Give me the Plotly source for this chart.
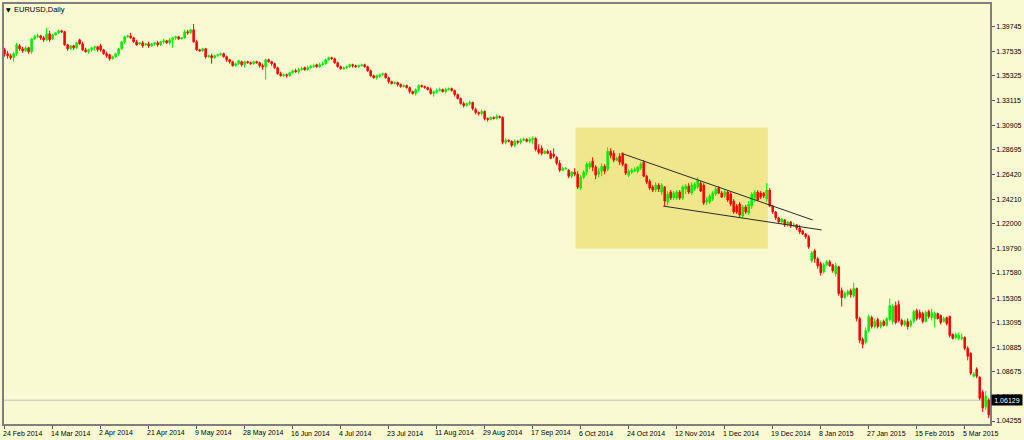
import plotly.graph_objects as go

# ---------------- data (EURUSD daily) ----------------
OPEN = [
    1.3768, 1.3733, 1.3715, 1.3697, 1.3733, 1.3804, 1.3777, 1.3759, 1.3786, 1.3751,
    1.3867, 1.3885, 1.3894, 1.3876, 1.3858, 1.3912, 1.3867, 1.3903, 1.3921, 1.3939,
    1.3930, 1.3813, 1.3777, 1.3804, 1.3786, 1.3858, 1.3822, 1.3768, 1.3751, 1.3768,
    1.3786, 1.3795, 1.3804, 1.3768, 1.3733, 1.3724, 1.3688, 1.3706, 1.3733, 1.3777,
    1.3840, 1.3885, 1.3894, 1.3876, 1.3840, 1.3822, 1.3831, 1.3813, 1.3822, 1.3804,
    1.3822, 1.3831, 1.3813, 1.3840, 1.3849, 1.3831, 1.3858, 1.3876, 1.3885, 1.3867,
    1.3876, 1.3930, 1.3921, 1.3948, 1.3840, 1.3768, 1.3759, 1.3777, 1.3706, 1.3715,
    1.3697, 1.3715, 1.3724, 1.3733, 1.3706, 1.3679, 1.3661, 1.3625, 1.3643, 1.3661,
    1.3634, 1.3661, 1.3652, 1.3643, 1.3661, 1.3652, 1.3625, 1.3616, 1.3679, 1.3661,
    1.3643, 1.3607, 1.3553, 1.3535, 1.3544, 1.3535, 1.3562, 1.3580, 1.3571, 1.3589,
    1.3607, 1.3589, 1.3607, 1.3616, 1.3634, 1.3616, 1.3634, 1.3643, 1.3679, 1.3697,
    1.3688, 1.3652, 1.3616, 1.3598, 1.3607, 1.3616, 1.3634, 1.3625, 1.3616, 1.3625,
    1.3634, 1.3616, 1.3580, 1.3535, 1.3517, 1.3526, 1.3544, 1.3553, 1.3517, 1.3482,
    1.3464, 1.3473, 1.3455, 1.3437, 1.3446, 1.3428, 1.3392, 1.3374, 1.3410, 1.3446,
    1.3437, 1.3428, 1.3410, 1.3374, 1.3392, 1.3401, 1.3410, 1.3392, 1.3410, 1.3419,
    1.3401, 1.3365, 1.3329, 1.3284, 1.3266, 1.3284, 1.3293, 1.3231, 1.3204, 1.3195,
    1.3213, 1.3150, 1.3141, 1.3159, 1.3150, 1.3168, 1.3159, 1.2935, 1.2953, 1.2944,
    1.2908, 1.2944, 1.2935, 1.2953, 1.2962, 1.2944, 1.2962, 1.2971, 1.2872, 1.2881,
    1.2836, 1.2854, 1.2836, 1.2827, 1.2800, 1.2747, 1.2684, 1.2693, 1.2684, 1.2630,
    1.2666, 1.2648, 1.2523, 1.2621, 1.2666, 1.2711, 1.2765, 1.2711, 1.2648, 1.2675,
    1.2720, 1.2693, 1.2854, 1.2836, 1.2774, 1.2809, 1.2827, 1.2738, 1.2639, 1.2666,
    1.2675, 1.2675, 1.2702, 1.2756, 1.2630, 1.2585, 1.2532, 1.2505, 1.2549, 1.2487,
    1.2532, 1.2397, 1.2487, 1.2433, 1.2433, 1.2487, 1.2433, 1.2514, 1.2541, 1.2478,
    1.2514, 1.2532, 1.2567, 1.2549, 1.2397, 1.2397, 1.2424, 1.2469, 1.2523, 1.2478,
    1.2451, 1.2487, 1.2469, 1.2406, 1.2361, 1.2379, 1.2272, 1.2352, 1.2299, 1.2361,
    1.2433, 1.2487, 1.2478, 1.2478, 1.2424, 1.2505, 1.2361, 1.2308, 1.2254, 1.2218,
    1.2236, 1.2191, 1.2218, 1.2182, 1.2191, 1.2164, 1.2137, 1.2110, 1.2084, 1.1868,
    1.1958, 1.1886, 1.1841, 1.1770, 1.1832, 1.1859, 1.1832, 1.1752, 1.1815, 1.1600,
    1.1537, 1.1564, 1.1600, 1.1555, 1.1618, 1.1348, 1.1160, 1.1134, 1.1241, 1.1357,
    1.1277, 1.1339, 1.1277, 1.1322, 1.1286, 1.1339, 1.1322, 1.1465, 1.1474, 1.1331,
    1.1295, 1.1322, 1.1286, 1.1322, 1.1420, 1.1402, 1.1393, 1.1322, 1.1411, 1.1357,
    1.1348, 1.1393, 1.1375, 1.1322, 1.1357, 1.1366, 1.1205, 1.1178, 1.1169, 1.1169,
    1.1178, 1.1080, 1.1035, 1.0829, 1.0892, 1.0820, 1.0685, 1.0551, 1.0614,
]

HIGH = [
    1.3786, 1.3759, 1.3733, 1.3751, 1.3831, 1.3822, 1.3795, 1.3804, 1.3795, 1.3876,
    1.3903, 1.3912, 1.3903, 1.3894, 1.3966, 1.3939, 1.3912, 1.3930, 1.3948, 1.3948,
    1.3939, 1.3822, 1.3813, 1.3813, 1.3840, 1.3867, 1.3840, 1.3786, 1.3777, 1.3795,
    1.3804, 1.3804, 1.3822, 1.3777, 1.3751, 1.3733, 1.3715, 1.3742, 1.3786, 1.3849,
    1.3894, 1.3903, 1.3921, 1.3885, 1.3858, 1.3840, 1.3849, 1.3831, 1.3840, 1.3831,
    1.3840, 1.3849, 1.3849, 1.3867, 1.3858, 1.3876, 1.3885, 1.3894, 1.3894, 1.3885,
    1.3948, 1.3948, 1.3957, 1.4001, 1.3858, 1.3777, 1.3786, 1.3786, 1.3724, 1.3733,
    1.3724, 1.3733, 1.3742, 1.3742, 1.3715, 1.3688, 1.3670, 1.3652, 1.3679, 1.3670,
    1.3670, 1.3670, 1.3661, 1.3670, 1.3670, 1.3661, 1.3643, 1.3688, 1.3688, 1.3670,
    1.3652, 1.3616, 1.3571, 1.3553, 1.3553, 1.3571, 1.3589, 1.3598, 1.3607, 1.3616,
    1.3616, 1.3625, 1.3634, 1.3643, 1.3643, 1.3652, 1.3661, 1.3688, 1.3706, 1.3706,
    1.3697, 1.3661, 1.3625, 1.3616, 1.3625, 1.3643, 1.3643, 1.3634, 1.3634, 1.3643,
    1.3643, 1.3625, 1.3589, 1.3544, 1.3544, 1.3553, 1.3562, 1.3562, 1.3526, 1.3490,
    1.3482, 1.3482, 1.3464, 1.3455, 1.3455, 1.3437, 1.3401, 1.3419, 1.3455, 1.3455,
    1.3446, 1.3437, 1.3428, 1.3401, 1.3419, 1.3428, 1.3419, 1.3428, 1.3428, 1.3428,
    1.3410, 1.3374, 1.3338, 1.3302, 1.3293, 1.3311, 1.3302, 1.3248, 1.3213, 1.3231,
    1.3222, 1.3159, 1.3168, 1.3168, 1.3186, 1.3177, 1.3168, 1.2971, 1.2962, 1.2953,
    1.2962, 1.2953, 1.2971, 1.2980, 1.2971, 1.2980, 1.2989, 1.2980, 1.2917, 1.2908,
    1.2863, 1.2872, 1.2863, 1.2881, 1.2809, 1.2774, 1.2711, 1.2711, 1.2693, 1.2675,
    1.2702, 1.2675, 1.2639, 1.2684, 1.2756, 1.2765, 1.2800, 1.2729, 1.2702, 1.2747,
    1.2738, 1.2890, 1.2881, 1.2863, 1.2809, 1.2836, 1.2845, 1.2747, 1.2693, 1.2702,
    1.2711, 1.2720, 1.2756, 1.2774, 1.2639, 1.2603, 1.2549, 1.2576, 1.2567, 1.2567,
    1.2541, 1.2496, 1.2505, 1.2496, 1.2505, 1.2505, 1.2549, 1.2558, 1.2567, 1.2576,
    1.2576, 1.2621, 1.2585, 1.2567, 1.2442, 1.2469, 1.2496, 1.2532, 1.2541, 1.2496,
    1.2505, 1.2496, 1.2487, 1.2424, 1.2379, 1.2397, 1.2370, 1.2370, 1.2406, 1.2487,
    1.2505, 1.2505, 1.2496, 1.2487, 1.2567, 1.2523, 1.2370, 1.2317, 1.2263, 1.2254,
    1.2245, 1.2227, 1.2227, 1.2209, 1.2200, 1.2191, 1.2146, 1.2119, 1.2101, 1.1958,
    1.1976, 1.1904, 1.1859, 1.1850, 1.1877, 1.1877, 1.1841, 1.1850, 1.1823, 1.1627,
    1.1591, 1.1609, 1.1618, 1.1671, 1.1627, 1.1366, 1.1178, 1.1268, 1.1384, 1.1375,
    1.1348, 1.1357, 1.1331, 1.1339, 1.1357, 1.1528, 1.1483, 1.1501, 1.1510, 1.1348,
    1.1339, 1.1348, 1.1339, 1.1429, 1.1438, 1.1429, 1.1411, 1.1420, 1.1429, 1.1438,
    1.1411, 1.1402, 1.1384, 1.1366, 1.1366, 1.1375, 1.1214, 1.1223, 1.1223, 1.1214,
    1.1187, 1.1098, 1.1044, 1.0865, 1.0909, 1.0829, 1.0703, 1.0694, 1.0631,
]

LOW = [
    1.3706, 1.3688, 1.3679, 1.3661, 1.3715, 1.3759, 1.3742, 1.3751, 1.3733, 1.3733,
    1.3858, 1.3876, 1.3858, 1.3840, 1.3849, 1.3840, 1.3858, 1.3894, 1.3912, 1.3921,
    1.3804, 1.3759, 1.3768, 1.3768, 1.3777, 1.3813, 1.3759, 1.3742, 1.3733, 1.3751,
    1.3759, 1.3751, 1.3751, 1.3724, 1.3697, 1.3670, 1.3679, 1.3697, 1.3715, 1.3768,
    1.3822, 1.3876, 1.3867, 1.3831, 1.3804, 1.3813, 1.3786, 1.3804, 1.3786, 1.3795,
    1.3804, 1.3795, 1.3804, 1.3822, 1.3822, 1.3813, 1.3786, 1.3858, 1.3858, 1.3858,
    1.3867, 1.3903, 1.3912, 1.3831, 1.3759, 1.3751, 1.3751, 1.3688, 1.3697, 1.3643,
    1.3688, 1.3706, 1.3715, 1.3697, 1.3661, 1.3643, 1.3616, 1.3616, 1.3634, 1.3616,
    1.3607, 1.3643, 1.3634, 1.3634, 1.3643, 1.3607, 1.3589, 1.3499, 1.3652, 1.3625,
    1.3598, 1.3544, 1.3526, 1.3526, 1.3517, 1.3526, 1.3553, 1.3562, 1.3553, 1.3580,
    1.3580, 1.3580, 1.3598, 1.3607, 1.3607, 1.3607, 1.3625, 1.3634, 1.3670, 1.3679,
    1.3643, 1.3607, 1.3589, 1.3589, 1.3598, 1.3607, 1.3607, 1.3607, 1.3607, 1.3616,
    1.3607, 1.3571, 1.3526, 1.3508, 1.3499, 1.3517, 1.3535, 1.3508, 1.3464, 1.3455,
    1.3455, 1.3437, 1.3428, 1.3428, 1.3419, 1.3374, 1.3365, 1.3356, 1.3392, 1.3428,
    1.3419, 1.3401, 1.3365, 1.3347, 1.3374, 1.3392, 1.3383, 1.3374, 1.3401, 1.3392,
    1.3347, 1.3320, 1.3275, 1.3248, 1.3257, 1.3266, 1.3222, 1.3186, 1.3177, 1.3177,
    1.3132, 1.3123, 1.3132, 1.3141, 1.3141, 1.3150, 1.2917, 1.2917, 1.2935, 1.2890,
    1.2890, 1.2917, 1.2917, 1.2944, 1.2935, 1.2926, 1.2917, 1.2854, 1.2827, 1.2818,
    1.2827, 1.2827, 1.2783, 1.2791, 1.2729, 1.2666, 1.2675, 1.2684, 1.2612, 1.2612,
    1.2630, 1.2514, 1.2505, 1.2603, 1.2639, 1.2693, 1.2675, 1.2603, 1.2621, 1.2630,
    1.2648, 1.2675, 1.2791, 1.2756, 1.2765, 1.2729, 1.2720, 1.2639, 1.2621, 1.2648,
    1.2666, 1.2657, 1.2684, 1.2621, 1.2558, 1.2505, 1.2487, 1.2487, 1.2487, 1.2460,
    1.2361, 1.2370, 1.2415, 1.2415, 1.2415, 1.2415, 1.2415, 1.2469, 1.2469, 1.2460,
    1.2496, 1.2514, 1.2487, 1.2370, 1.2370, 1.2379, 1.2406, 1.2451, 1.2469, 1.2433,
    1.2433, 1.2397, 1.2361, 1.2290, 1.2290, 1.2263, 1.2254, 1.2290, 1.2281, 1.2335,
    1.2397, 1.2406, 1.2424, 1.2433, 1.2397, 1.2352, 1.2290, 1.2236, 1.2209, 1.2200,
    1.2173, 1.2173, 1.2164, 1.2173, 1.2146, 1.2110, 1.2101, 1.2066, 1.1976, 1.1850,
    1.1850, 1.1797, 1.1734, 1.1752, 1.1823, 1.1815, 1.1761, 1.1725, 1.1555, 1.1456,
    1.1528, 1.1546, 1.1537, 1.1537, 1.1322, 1.1125, 1.1080, 1.1116, 1.1223, 1.1259,
    1.1259, 1.1259, 1.1259, 1.1277, 1.1277, 1.1322, 1.1295, 1.1295, 1.1313, 1.1277,
    1.1277, 1.1250, 1.1268, 1.1304, 1.1331, 1.1339, 1.1304, 1.1313, 1.1348, 1.1331,
    1.1268, 1.1339, 1.1295, 1.1313, 1.1286, 1.1178, 1.1160, 1.1160, 1.1152, 1.1152,
    1.1062, 1.0972, 1.0838, 1.0820, 1.0811, 1.0614, 1.0506, 1.0524, 1.0452,
]

CLOSE = [
    1.3733, 1.3715, 1.3697, 1.3733, 1.3813, 1.3777, 1.3759, 1.3786, 1.3751, 1.3867,
    1.3885, 1.3894, 1.3876, 1.3858, 1.3912, 1.3858, 1.3903, 1.3921, 1.3939, 1.3930,
    1.3813, 1.3777, 1.3804, 1.3786, 1.3831, 1.3822, 1.3768, 1.3751, 1.3768, 1.3786,
    1.3795, 1.3768, 1.3768, 1.3733, 1.3715, 1.3688, 1.3706, 1.3733, 1.3777, 1.3840,
    1.3885, 1.3894, 1.3876, 1.3840, 1.3813, 1.3831, 1.3804, 1.3822, 1.3804, 1.3822,
    1.3831, 1.3813, 1.3840, 1.3849, 1.3831, 1.3858, 1.3876, 1.3885, 1.3867, 1.3876,
    1.3930, 1.3921, 1.3948, 1.3840, 1.3768, 1.3759, 1.3777, 1.3706, 1.3715, 1.3697,
    1.3715, 1.3724, 1.3733, 1.3706, 1.3679, 1.3661, 1.3625, 1.3643, 1.3670, 1.3634,
    1.3661, 1.3652, 1.3643, 1.3661, 1.3652, 1.3625, 1.3616, 1.3679, 1.3661, 1.3643,
    1.3607, 1.3553, 1.3535, 1.3544, 1.3535, 1.3562, 1.3580, 1.3571, 1.3589, 1.3598,
    1.3589, 1.3607, 1.3616, 1.3625, 1.3616, 1.3634, 1.3643, 1.3679, 1.3697, 1.3688,
    1.3652, 1.3616, 1.3598, 1.3607, 1.3616, 1.3634, 1.3625, 1.3616, 1.3625, 1.3634,
    1.3616, 1.3580, 1.3535, 1.3517, 1.3535, 1.3544, 1.3553, 1.3517, 1.3482, 1.3464,
    1.3473, 1.3455, 1.3437, 1.3446, 1.3428, 1.3392, 1.3374, 1.3410, 1.3446, 1.3437,
    1.3428, 1.3410, 1.3374, 1.3392, 1.3401, 1.3410, 1.3392, 1.3410, 1.3419, 1.3401,
    1.3365, 1.3329, 1.3284, 1.3266, 1.3284, 1.3293, 1.3239, 1.3204, 1.3195, 1.3213,
    1.3150, 1.3141, 1.3159, 1.3150, 1.3168, 1.3159, 1.2935, 1.2953, 1.2944, 1.2908,
    1.2944, 1.2935, 1.2953, 1.2962, 1.2944, 1.2962, 1.2971, 1.2872, 1.2845, 1.2836,
    1.2854, 1.2836, 1.2791, 1.2809, 1.2747, 1.2684, 1.2702, 1.2702, 1.2630, 1.2666,
    1.2648, 1.2532, 1.2621, 1.2666, 1.2738, 1.2747, 1.2711, 1.2639, 1.2675, 1.2720,
    1.2675, 1.2854, 1.2818, 1.2774, 1.2791, 1.2756, 1.2738, 1.2657, 1.2675, 1.2684,
    1.2693, 1.2711, 1.2738, 1.2630, 1.2576, 1.2523, 1.2505, 1.2549, 1.2514, 1.2549,
    1.2406, 1.2469, 1.2433, 1.2478, 1.2487, 1.2433, 1.2532, 1.2541, 1.2487, 1.2549,
    1.2558, 1.2594, 1.2496, 1.2388, 1.2415, 1.2451, 1.2478, 1.2514, 1.2478, 1.2442,
    1.2487, 1.2415, 1.2379, 1.2308, 1.2308, 1.2281, 1.2352, 1.2308, 1.2379, 1.2469,
    1.2487, 1.2415, 1.2442, 1.2451, 1.2505, 1.2361, 1.2308, 1.2254, 1.2218, 1.2245,
    1.2191, 1.2218, 1.2182, 1.2191, 1.2164, 1.2128, 1.2110, 1.2084, 1.1994, 1.1940,
    1.1886, 1.1823, 1.1761, 1.1832, 1.1859, 1.1823, 1.1779, 1.1823, 1.1573, 1.1537,
    1.1573, 1.1591, 1.1564, 1.1618, 1.1348, 1.1152, 1.1116, 1.1241, 1.1366, 1.1277,
    1.1322, 1.1277, 1.1313, 1.1286, 1.1348, 1.1465, 1.1456, 1.1313, 1.1331, 1.1295,
    1.1322, 1.1277, 1.1322, 1.1411, 1.1348, 1.1357, 1.1322, 1.1402, 1.1366, 1.1402,
    1.1393, 1.1348, 1.1313, 1.1348, 1.1304, 1.1196, 1.1169, 1.1205, 1.1196, 1.1178,
    1.1080, 1.1008, 1.0856, 1.0847, 1.0829, 1.0631, 1.0542, 1.0649, 1.0479,
]

DATE_LABELS = ["24 Feb 2014", "14 Mar 2014", "2 Apr 2014", "21 Apr 2014", "9 May 2014",
               "28 May 2014", "16 Jun 2014", "4 Jul 2014", "23 Jul 2014", "11 Aug 2014",
               "29 Aug 2014", "17 Sep 2014", "6 Oct 2014", "24 Oct 2014", "12 Nov 2014",
               "1 Dec 2014", "19 Dec 2014", "8 Jan 2015", "27 Jan 2015", "15 Feb 2015",
               "5 Mar 2015"]
DATE_BARS = [0, 16, 32, 48, 64, 80, 96, 112, 128, 144, 160, 176, 192, 208, 224,
             240, 256, 272, 288, 304, 320]

PRICE_TICKS = [1.39745, 1.37535, 1.35325, 1.33115, 1.30905, 1.28695, 1.26420, 1.24210,
               1.22000, 1.19790, 1.17580, 1.15305, 1.13095, 1.10885, 1.08675, 1.06465,
               1.04255]
BID = 1.06129

ZONE_BARS = [190.3, 254.4]
ZONE_PRICES = [1.1976, 1.3069]
UPPER_BARS = [205.6, 269.3]
UPPER_PRICES = [1.2836, 1.2236]
LOWER_BARS = [219.5, 272.3]
LOWER_PRICES = [1.2361, 1.2146]

# ---------------- figure ----------------
n = min(len(OPEN), len(HIGH), len(LOW), len(CLOSE))
bars = list(range(n))
BG = "#FAFAD2"
FONT = "Liberation Sans, Arial, sans-serif"

fig = go.Figure()
fig.add_trace(go.Candlestick(
    x=bars, open=OPEN[:n], high=HIGH[:n], low=LOW[:n], close=CLOSE[:n],
    increasing=dict(line=dict(color="#00EE00", width=1), fillcolor="#00EE00"),
    decreasing=dict(line=dict(color="#FF0000", width=1), fillcolor="#FF0000"),
    whiskerwidth=0, showlegend=False, hoverinfo="skip",
))

shapes = [
    dict(type="rect", xref="x", yref="y", x0=ZONE_BARS[0], x1=ZONE_BARS[1],
         y0=ZONE_PRICES[0], y1=ZONE_PRICES[1], fillcolor="#F0E68C",
         line=dict(width=0), layer="below"),
    dict(type="line", xref="paper", yref="y", x0=0, x1=1, y0=BID, y1=BID,
         line=dict(color="#C0C0C0", width=1), layer="below"),
    dict(type="line", xref="x", yref="y", x0=UPPER_BARS[0], x1=UPPER_BARS[1],
         y0=UPPER_PRICES[0], y1=UPPER_PRICES[1], line=dict(color="#2a2a2a", width=1)),
    dict(type="line", xref="x", yref="y", x0=LOWER_BARS[0], x1=LOWER_BARS[1],
         y0=LOWER_PRICES[0], y1=LOWER_PRICES[1], line=dict(color="#2a2a2a", width=1)),
]

annotations = []
for b, lab in zip(DATE_BARS, DATE_LABELS):
    annotations.append(dict(x=b, xref="x", y=0, yref="paper", yshift=-9,
                            xanchor="left", yanchor="middle", showarrow=False,
                            text=lab, xshift=-4,
                            font=dict(family=FONT, size=7, color="#000000")))
annotations.append(dict(x=0, xref="paper", y=1, yref="paper", xshift=0, yshift=-5,
                        xanchor="left", yanchor="middle", showarrow=False,
                        text="▼", font=dict(family="DejaVu Sans", size=6, color="#000000")))
annotations.append(dict(x=0, xref="paper", y=1, yref="paper", xshift=8, yshift=-5,
                        xanchor="left", yanchor="middle", showarrow=False,
                        text="EURUSD,Daily", font=dict(family=FONT, size=7.5, color="#000000")))
annotations.append(dict(x=1, xref="paper", y=BID, yref="y", xshift=1,
                        xanchor="left", yanchor="middle", showarrow=False,
                        text="1.06129", bgcolor="#000000", width=30, height=10,
                        borderpad=0, align="center",
                        font=dict(family=FONT, size=7, color="#FFFFFF")))

fig.update_layout(
    width=1024, height=440,
    margin=dict(l=2, r=32, t=2, b=16),
    paper_bgcolor=BG, plot_bgcolor=BG,
    shapes=shapes, annotations=annotations,
    showlegend=False,
    xaxis=dict(range=[-0.2, 328.43], showgrid=False, zeroline=False,
               showline=True, mirror=True, linecolor="#7f7f7f", linewidth=1.5,
               ticks="outside", ticklen=3, tickcolor="#555555", tickwidth=1,
               tickvals=DATE_BARS, showticklabels=False,
               rangeslider=dict(visible=False), fixedrange=True),
    yaxis=dict(range=[1.03987, 1.41806], side="right", showgrid=False, zeroline=False,
               showline=True, mirror=True, linecolor="#7f7f7f", linewidth=1.5,
               ticks="outside", ticklen=3, tickcolor="#555555", tickwidth=1,
               tickvals=PRICE_TICKS, ticktext=[f"{v:.5f}" for v in PRICE_TICKS],
               tickfont=dict(family=FONT, size=7, color="#000000"), fixedrange=True),
)

fig.write_html("out.html", config={"displayModeBar": False},
               post_script="document.body.style.margin='0';document.body.style.background='#FAFAD2';")
